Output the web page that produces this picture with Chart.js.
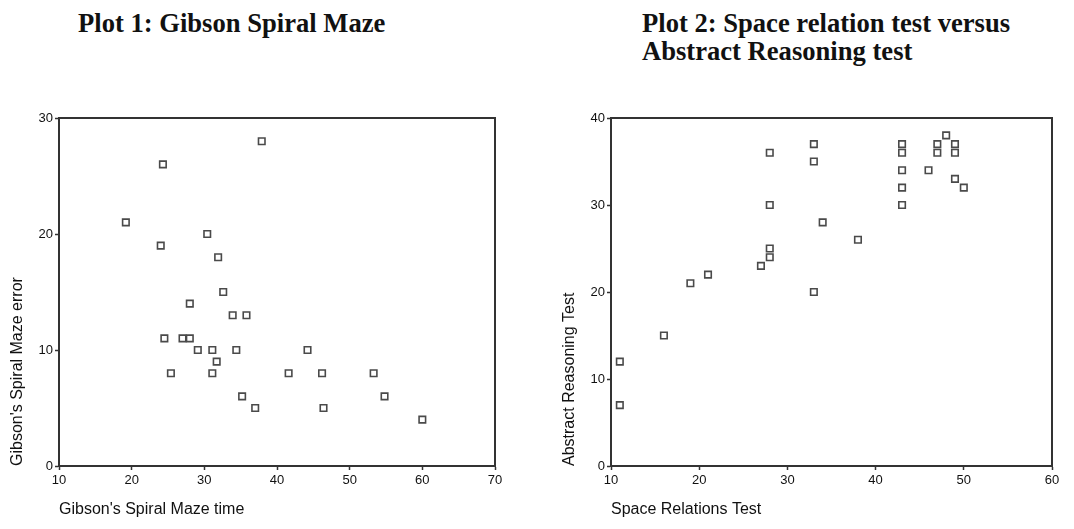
<!DOCTYPE html>
<html><head><meta charset="utf-8">
<script src="https://cdn.jsdelivr.net/npm/chart.js@4/dist/chart.umd.min.js"></script>
<style>
html,body{margin:0;padding:0;background:#fff;width:1074px;height:529px;overflow:hidden;position:relative}
.title{position:absolute;font-family:"Liberation Serif","Times New Roman",serif;font-weight:bold;font-size:26.6px;line-height:28px;color:#111;white-space:nowrap}
.box{position:absolute}
</style></head><body>
<div class="title" style="left:78px;top:9px">Plot 1: Gibson Spiral Maze</div>
<div class="title" style="left:642px;top:9px">Plot 2: Space relation test versus<br>Abstract Reasoning test</div>
<div class="box" style="left:0;top:100px;width:510px;height:429px"><canvas id="c1"></canvas></div>
<div class="box" style="left:540px;top:100px;width:534px;height:429px"><canvas id="c2"></canvas></div>
<script>
// Plot 1 data
const mazeTime  = [19.2, 24.3, 37.9, 24.0, 30.4, 31.9, 32.6, 28.0, 33.9, 35.8, 24.5, 27.0, 28.0, 29.1, 31.1, 34.4, 44.2, 31.7, 25.4, 31.1, 41.6, 46.2, 53.3, 35.2, 54.8, 37.0, 46.4, 60.0];
const mazeError = [21,   26,   28,   19,   20,   18,   15,   14,   13,   13,   11,   11,   11,   10,   10,   10,   10,   9,    8,    8,    8,    8,    8,    6,    6,    5,    5,    4];
const xTicks1 = [10, 20, 30, 40, 50, 60, 70];
const yTicks1 = [0, 10, 20, 30];

// Plot 2 data
const spaceRel   = [11, 11, 16, 19, 21, 27, 28, 28, 28, 28, 33, 33, 33, 34, 38, 43, 43, 43, 43, 43, 46, 47, 47, 48, 49, 49, 49, 50];
const abstractRs = [12, 7,  15, 21, 22, 23, 24, 25, 30, 36, 37, 35, 20, 28, 26, 37, 36, 34, 32, 30, 34, 37, 36, 38, 37, 36, 33, 32];
const xTicks2 = [10, 20, 30, 40, 50, 60];
const yTicks2 = [0, 10, 20, 30, 40];

const sansFont = '"Liberation Sans", Arial, Helvetica, sans-serif';

const framePlugin = {
  id: 'frame',
  afterDraw(chart) {
    const {ctx, chartArea: a} = chart;
    ctx.save();
    ctx.strokeStyle = '#333';
    ctx.lineWidth = 2;
    ctx.strokeRect(a.left, a.top, a.right - a.left, a.bottom - a.top);
    ctx.restore();
  }
};

function makeChart(id, xs, ys, xTicks, yTicks, xTitle, yTitle, yWidth, yTitlePad, padRight) {
  const pts = xs.map((x, i) => ({x: x, y: ys[i]}));
  return new Chart(document.getElementById(id), {
    type: 'scatter',
    data: {datasets: [{
      data: pts,
      pointStyle: 'rect',
      pointRadius: 4.6,
      pointHoverRadius: 4.6,
      pointBorderWidth: 1.6,
      pointBorderColor: '#4a4a4a',
      pointBackgroundColor: '#ffffff'
    }]},
    options: {
      responsive: true,
      maintainAspectRatio: false,
      animation: false,
      layout: {padding: {left: 0, right: padRight, top: 18, bottom: 0}},
      plugins: {legend: {display: false}, tooltip: {enabled: false}},
      scales: {
        x: {
          type: 'linear',
          min: xTicks[0], max: xTicks[xTicks.length - 1],
          afterBuildTicks: s => { s.ticks = xTicks.map(v => ({value: v})); },
          afterFit: s => { s.height = 63; s.paddingLeft = 0; s.paddingRight = 0; },
          grid: {display: true, drawOnChartArea: false, drawTicks: true, tickLength: 4, tickColor: '#333', tickWidth: 1.5},
          border: {display: true, color: '#333', width: 2},
          ticks: {padding: 3, color: '#111', font: {family: sansFont, size: 13}, maxRotation: 0, autoSkip: false},
          title: {display: true, text: xTitle, align: 'start', color: '#111', font: {family: sansFont, size: 16}, padding: {top: 0, bottom: 9.4}}
        },
        y: {
          type: 'linear',
          min: yTicks[0], max: yTicks[yTicks.length - 1],
          afterBuildTicks: s => { s.ticks = yTicks.map(v => ({value: v})); },
          afterFit: s => { s.width = yWidth; s.paddingTop = 0; s.paddingBottom = 0; },
          grid: {display: true, drawOnChartArea: false, drawTicks: true, tickLength: 4, tickColor: '#333', tickWidth: 1.5},
          border: {display: true, color: '#333', width: 2},
          ticks: {padding: 2, color: '#111', font: {family: sansFont, size: 13}, autoSkip: false},
          title: {display: true, text: yTitle, align: 'start', color: '#111', font: {family: sansFont, size: 16}, padding: {top: yTitlePad, bottom: 0}}
        }
      }
    },
    plugins: [framePlugin]
  });
}

makeChart('c1', mazeTime, mazeError, xTicks1, yTicks1, "Gibson's Spiral Maze time", "Gibson's Spiral Maze error", 59, 8.4, 15);
makeChart('c2', spaceRel, abstractRs, xTicks2, yTicks2, "Space Relations Test", "Abstract Reasoning Test", 71, 20.4, 22);
</script>
</body></html>
